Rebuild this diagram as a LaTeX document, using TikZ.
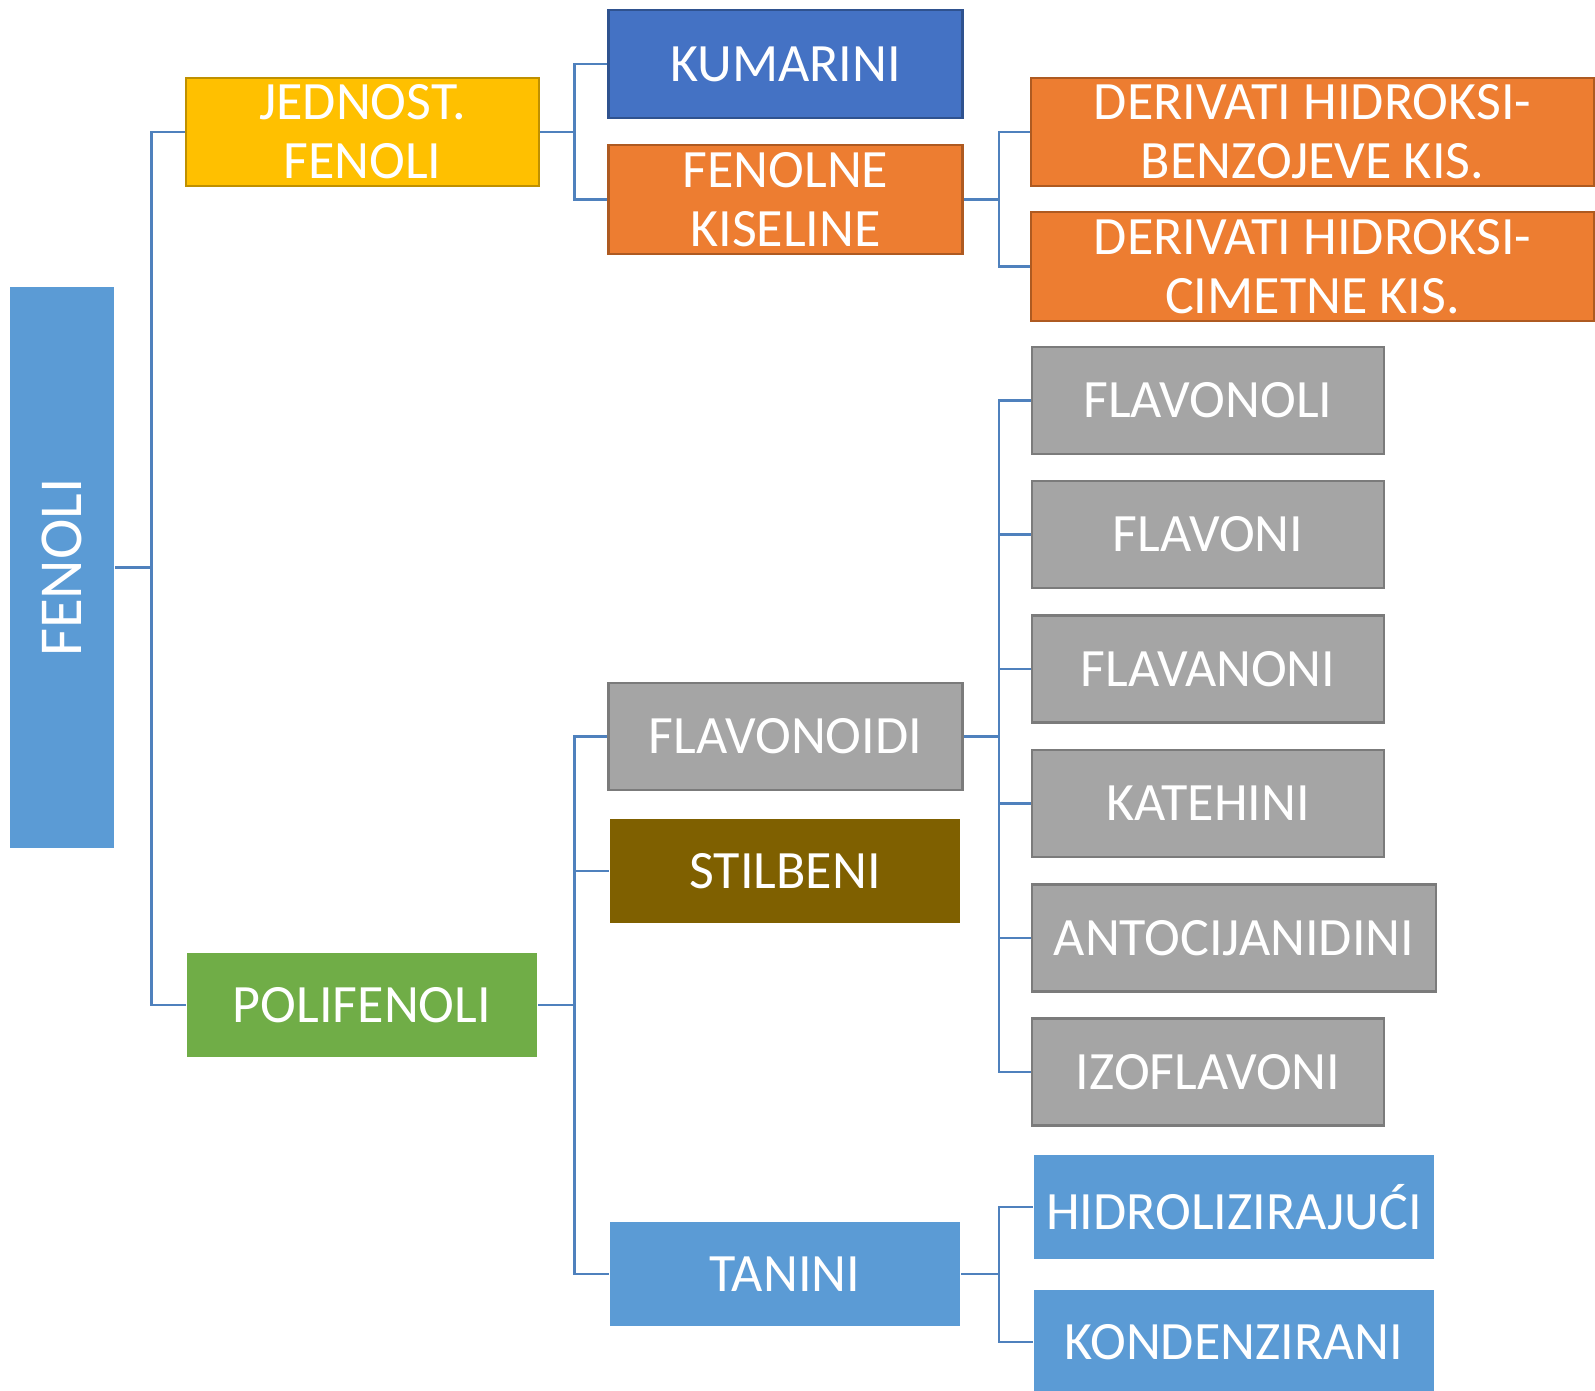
\documentclass[tikz,border=0pt]{standalone}
\usepackage{fontspec}
\setmainfont{Carlito}
\definecolor{fenc}{HTML}{5B9BD5}
\definecolor{yelf}{HTML}{FFC000}
\definecolor{yeld}{HTML}{BF9000}
\definecolor{bluf}{HTML}{4472C4}
\definecolor{blud}{HTML}{2F528F}
\definecolor{oraf}{HTML}{ED7D31}
\definecolor{orad}{HTML}{AE5A21}
\definecolor{grf}{HTML}{A5A5A5}
\definecolor{grd}{HTML}{7B7B7B}
\definecolor{brf}{HTML}{7F6000}
\definecolor{grnf}{HTML}{70AD47}
\definecolor{linec}{HTML}{4F81BD}
\begin{document}
\begin{tikzpicture}[x=1pt,y=-1pt,
  box/.style={rectangle, inner sep=0pt, align=center, text=white,
    font=\fontsize{54}{59}\selectfont, line width=2.5pt},
  yelbox/.style={box, fill=yelf, draw=yeld},
  blubox/.style={box, fill=bluf, draw=blud},
  orabox/.style={box, fill=oraf, draw=orad},
  grbox/.style={box, fill=grf, draw=grd, minimum width=352pt, minimum height=107pt},
  lbbox/.style={box, fill=fenc},
  conn/.style={draw=linec, line width=2.5pt}]
\useasboundingbox (0,0) rectangle (1595,1391);
% root
\node[lbbox, minimum width=104pt, minimum height=561pt] (fen) at (62,567.5) {};
\node[rotate=90, text=white, font=\fontsize{61}{66}\selectfont, inner sep=0pt] (fenlbl) at (fen.center) {FENOLI};
% level 1
\node[yelbox, minimum width=353pt, minimum height=108pt] (jed) at (362.5,132) {JEDNOST.\\FENOLI};
\node[box, fill=grnf, minimum width=350pt, minimum height=104pt] (pol) at (362,1005) {POLIFENOLI};
% level 2
\node[blubox, minimum width=354pt, minimum height=108pt] (kum) at (785.5,64) {KUMARINI};
\node[orabox, minimum width=354pt, minimum height=109pt] (fks) at (785.5,199.5) {FENOLNE\\KISELINE};
\node[grbox, minimum width=354pt] (flo) at (785.5,736.5) {FLAVONOIDI};
\node[box, fill=brf, minimum width=350pt, minimum height=104pt] (sti) at (785,871) {STILBENI};
\node[lbbox, minimum width=350pt, minimum height=104pt] (tan) at (785,1274) {TANINI};
% level 3
\node[orabox, minimum width=563pt, minimum height=108pt] (der1) at (1312.5,132) {DERIVATI HIDROKSI-\\BENZOJEVE KIS.};
\node[orabox, minimum width=563pt, minimum height=109pt] (der2) at (1312.5,266.5) {DERIVATI HIDROKSI-\\CIMETNE KIS.};
\node[grbox] (g1) at (1208,400.5) {FLAVONOLI};
\node[grbox] (g2) at (1208,534.5) {FLAVONI};
\node[grbox] (g3) at (1208,669) {FLAVANONI};
\node[grbox] (g4) at (1208,803.5) {KATEHINI};
\node[grbox, minimum width=404pt] (g5) at (1234,938) {ANTOCIJANIDINI};
\node[grbox] (g6) at (1208,1072) {IZOFLAVONI};
\node[lbbox, minimum width=400pt, minimum height=104pt] (hid) at (1234,1207) {HIDROLIZIRAJUĆI};
\node[lbbox, minimum width=400pt, minimum height=104pt] (kon) at (1234,1342) {KONDENZIRANI};
% connectors
\draw[conn] (fen.east) -- ([xshift=36pt]fen.east) |- (jed.west);
\draw[conn] ([xshift=36pt]fen.east) |- (pol.west);
\draw[conn] (jed.east) -- ([xshift=34pt]jed.east) |- (kum.west);
\draw[conn] ([xshift=34pt]jed.east) |- (fks.west);
\draw[conn] (fks.east) -- ([xshift=35pt]fks.east) |- (der1.west);
\draw[conn] ([xshift=35pt]fks.east) |- (der2.west);
\draw[conn] (pol.east) -- ([xshift=36pt]pol.east) |- (flo.west);
\draw[conn] ([xshift=36pt]pol.east) |- (sti.west);
\draw[conn] ([xshift=36pt]pol.east) |- (tan.west);
\foreach \g in {g1,g2,g3,g4,g5,g6}{
  \draw[conn] (flo.east) -- ([xshift=35pt]flo.east) |- (\g.west);
}
\draw[conn] (tan.east) -- ([xshift=37.5pt]tan.east) |- (hid.west);
\draw[conn] ([xshift=37.5pt]tan.east) |- (kon.west);
\end{tikzpicture}
\end{document}
